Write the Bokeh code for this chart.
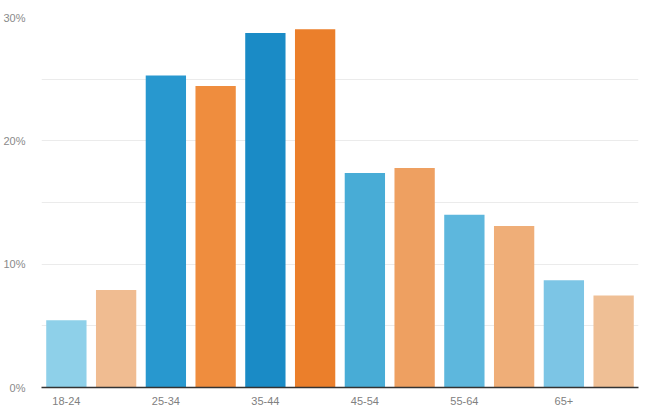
from bokeh.plotting import figure
from bokeh.models import FixedTicker, PrintfTickFormatter, ColumnDataSource
from bokeh.embed import file_html
from bokeh.resources import INLINE

age_groups = ["18-24", "25-34", "35-44", "45-54", "55-64", "65+"]
male_pct = [5.45, 25.3, 28.75, 17.4, 14.0, 8.7]
female_pct = [7.9, 24.45, 29.05, 17.8, 13.1, 7.45]
male_colors = ["#8ed0e9", "#2898cf", "#1a8bc6", "#48acd6", "#5db7dd", "#7cc5e5"]
female_colors = ["#f0bc91", "#ef8d3e", "#eb7f2b", "#eea061", "#efae78", "#efbf95"]

xs, tops, cols = [], [], []
for i, g in enumerate(age_groups):
    xs += [2 * i, 2 * i + 1]
    tops += [male_pct[i], female_pct[i]]
    cols += [male_colors[i], female_colors[i]]

src = ColumnDataSource(dict(x=xs, top=tops, color=cols))

p = figure(width=651, height=414, output_backend="svg", toolbar_location=None,
           x_range=(-0.5, 11.5), y_range=(0, 30),
           min_border_left=41, min_border_right=13, min_border_top=17, min_border_bottom=27)
p.outline_line_color = None
p.background_fill_color = "white"
p.border_fill_color = "white"

p.vbar(x="x", top="top", width=0.81, color="color", source=src, line_color=None)

# x axis
p.xaxis.ticker = FixedTicker(ticks=[2 * i for i in range(len(age_groups))])
p.xaxis.major_label_overrides = {2 * i: g for i, g in enumerate(age_groups)}
p.xaxis.axis_line_color = "#333333"
p.xaxis.axis_line_width = 1.5
p.xaxis.major_tick_line_color = None
p.xaxis.minor_tick_line_color = None
p.xaxis.major_label_standoff = 3
p.xaxis.major_label_text_font = "Liberation Sans"
p.xaxis.major_label_text_font_size = "11px"
p.xaxis.major_label_text_color = "#808080"
p.xgrid.grid_line_color = None

# y axis
p.yaxis.ticker = FixedTicker(ticks=[0, 10, 20, 30])
p.yaxis.formatter = PrintfTickFormatter(format="%d%%")
p.yaxis.axis_line_color = None
p.yaxis.major_tick_line_color = None
p.yaxis.minor_tick_line_color = None
p.yaxis.major_label_standoff = 10
p.yaxis.major_label_text_font = "Liberation Sans"
p.yaxis.major_label_text_font_size = "11px"
p.yaxis.major_label_text_color = "#8a8a8a"
p.ygrid.ticker = FixedTicker(ticks=[5, 10, 15, 20, 25, 30])
p.ygrid.grid_line_color = "#ebebeb"
p.ygrid.grid_line_width = 1

open("out.html", "w").write(file_html(p, INLINE))
